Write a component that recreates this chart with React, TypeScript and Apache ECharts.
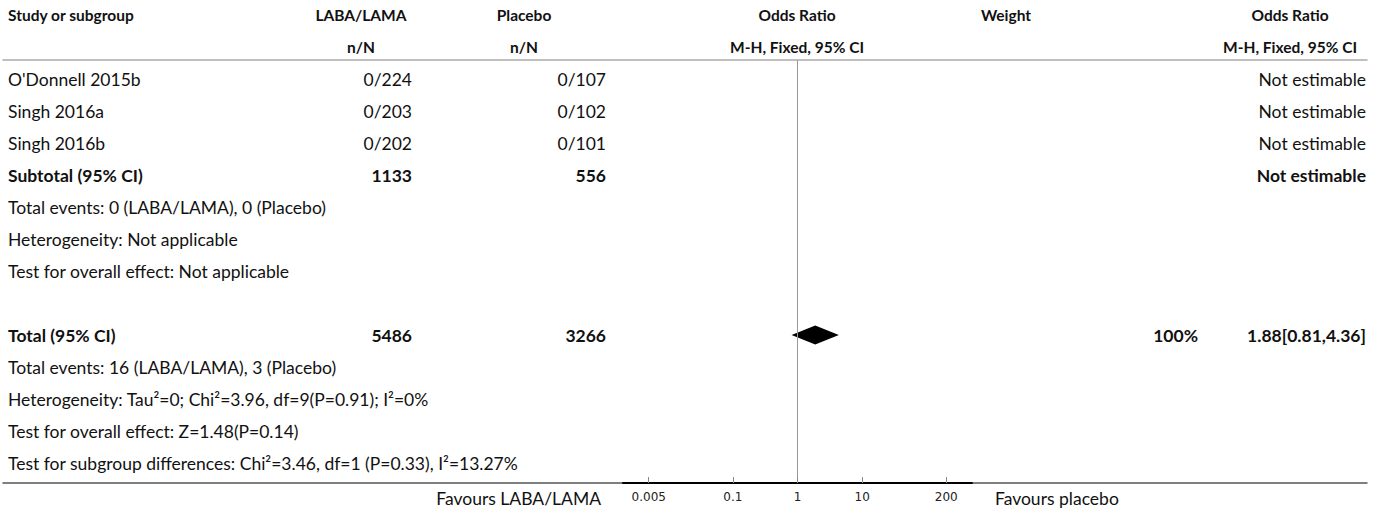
import React, { useEffect, useRef } from "react";
import * as echarts from "echarts";

// ---- data ----
const studyNames = ["O'Donnell 2015b", "Singh 2016a", "Singh 2016b"];
const labaCounts = ["0/224", "0/203", "0/202"];
const placeboCounts = ["0/107", "0/102", "0/101"];
const studyEstimates = ["Not estimable", "Not estimable", "Not estimable"];

const subtotalLabel = "Subtotal (95% CI)";
const subtotalLaba = "1133";
const subtotalPlacebo = "556";
const subtotalEstimate = "Not estimable";
const subgroupNotes = [
  "Total events: 0 (LABA/LAMA), 0 (Placebo)",
  "Heterogeneity: Not applicable",
  "Test for overall effect: Not applicable",
];

const totalLabel = "Total (95% CI)";
const totalLaba = "5486";
const totalPlacebo = "3266";
const totalWeight = "100%";
const totalEstimateText = "1.88[0.81,4.36]";
const totalOR = [1.88, 0.81, 4.36]; // OR, lower, upper
const totalNotes = [
  "Total events: 16 (LABA/LAMA), 3 (Placebo)",
  "Heterogeneity: Tau\u00b2=0; Chi\u00b2=3.96, df=9(P=0.91); I\u00b2=0%",
  "Test for overall effect: Z=1.48(P=0.14)",
  "Test for subgroup differences: Chi\u00b2=3.46, df=1 (P=0.33), I\u00b2=13.27%",
];

const headerRow1 = ["Study or subgroup", "LABA/LAMA", "Placebo", "Odds Ratio", "Weight", "Odds Ratio"];
const headerRow2 = ["", "n/N", "n/N", "M-H, Fixed, 95% CI", "", "M-H, Fixed, 95% CI"];

const axisTicks = [0.005, 0.1, 1, 10, 200];
const axisTickLabels = ["0.005", "0.1", "1", "10", "200"];
const axisRange = [0.002, 500];
const favoursLeft = "Favours LABA/LAMA";
const favoursRight = "Favours placebo";

// ---- layout ----
const FONT = "Lato";
const FS = 17.5;
const FS_ROW_BOLD = 17.5;
const FS_HEADER = 15.5;
const colHeaderX = [8, 361, 524, 797, 1006, 1290];
const colHeaderAlign = ["left", "center", "center", "center", "center", "center"];
const colValueX = [8, 412, 606, 797, 1198, 1366];

type Cell = { x: number; row: number; text: string; bold: boolean; align: string; size: number };

function buildCells(): Cell[] {
  const cells: Cell[] = [];
  headerRow1.forEach((t, i) => {
    if (t) cells.push({ x: colHeaderX[i], row: -2, text: t, bold: true, align: colHeaderAlign[i], size: FS_HEADER });
  });
  headerRow2.forEach((t, i) => {
    if (t) cells.push({ x: colHeaderX[i], row: -1, text: t, bold: true, align: colHeaderAlign[i], size: FS_HEADER });
  });
  const plain = (x: number, row: number, text: string, align: string) =>
    cells.push({ x, row, text, bold: false, align, size: FS });
  const bold = (x: number, row: number, text: string, align: string) =>
    cells.push({ x, row, text, bold: true, align, size: FS_ROW_BOLD });
  studyNames.forEach((name, r) => {
    plain(colValueX[0], r, name, "left");
    plain(colValueX[1], r, labaCounts[r], "right");
    plain(colValueX[2], r, placeboCounts[r], "right");
    plain(colValueX[5], r, studyEstimates[r], "right");
  });
  const sr = studyNames.length;
  bold(colValueX[0], sr, subtotalLabel, "left");
  bold(colValueX[1], sr, subtotalLaba, "right");
  bold(colValueX[2], sr, subtotalPlacebo, "right");
  bold(colValueX[5], sr, subtotalEstimate, "right");
  subgroupNotes.forEach((t, i) => plain(colValueX[0], sr + 1 + i, t, "left"));
  const tr = sr + subgroupNotes.length + 2;
  bold(colValueX[0], tr, totalLabel, "left");
  bold(colValueX[1], tr, totalLaba, "right");
  bold(colValueX[2], tr, totalPlacebo, "right");
  bold(colValueX[4], tr, totalWeight, "right");
  bold(colValueX[5], tr, totalEstimateText, "right");
  totalNotes.forEach((t, i) => plain(colValueX[0], tr + 1 + i, t, "left"));
  plain(601, 13.1, favoursLeft, "right");
  plain(995, 13.1, favoursRight, "left");
  return cells;
}

const TOTAL_ROW = studyNames.length + subgroupNotes.length + 2;

export default function App() {
  const ref = useRef<HTMLDivElement>(null);
  useEffect(() => {
    if (!ref.current) return;
    const chart = echarts.init(ref.current, undefined, { renderer: "svg" });
    const cells = buildCells();
    const log = (v: number) => Math.log10(v);
    const tickLogs = axisTicks.map(log);
    const gridTop = 60;
    const gridHeight = 423;
    const rowMin = -19 / 32;
    const rowMax = 12.625;

    chart.setOption({
      animation: false,
      grid: [
        { left: 3, top: gridTop, width: 1364, height: gridHeight },
        { left: 623, top: gridTop, width: 349, height: gridHeight },
      ],
      xAxis: [
        {
          gridIndex: 0, type: "value", min: 3, max: 1367, position: "bottom",
          axisLine: { show: true, onZero: false, lineStyle: { color: "#555", width: 1.5 } },
          axisTick: { show: false }, axisLabel: { show: false }, splitLine: { show: false },
        },
        {
          gridIndex: 0, type: "value", min: 3, max: 1367, position: "top",
          axisLine: { show: true, onZero: false, lineStyle: { color: "#aaa", width: 1.5 } },
          axisTick: { show: false }, axisLabel: { show: false }, splitLine: { show: false },
        },
        {
          gridIndex: 1, type: "value", min: log(axisRange[0]), max: log(axisRange[1]), z: 5,
          axisLine: { show: true, onZero: false, lineStyle: { color: "#000", width: 2 } },
          axisTick: { show: true, inside: true, length: 6, customValues: tickLogs, lineStyle: { color: "#888", width: 1 } },
          axisLabel: {
            show: true, customValues: tickLogs, margin: 8,
            fontFamily: "DejaVu Sans", fontSize: 12, color: "#222",
            formatter: (v: number) => {
              const i = tickLogs.findIndex((t) => Math.abs(t - v) < 1e-6);
              return i >= 0 ? axisTickLabels[i] : "";
            },
          },
          splitLine: { show: false },
        },
      ],
      yAxis: [
        { gridIndex: 0, type: "value", inverse: true, min: rowMin, max: rowMax, show: false },
        { gridIndex: 1, type: "value", inverse: true, min: rowMin, max: rowMax, show: false },
      ],
      series: [
        {
          type: "custom",
          xAxisIndex: 0,
          yAxisIndex: 0,
          silent: true,
          clip: false,
          data: cells.map((c, i) => [c.x, c.row, i]),
          renderItem: (params: any, api: any) => {
            const c = cells[api.value(2)];
            const p = api.coord([api.value(0), api.value(1)]);
            return {
              type: "text",
              x: p[0],
              y: p[1],
              style: {
                text: c.text,
                fill: "#111",
                fontFamily: FONT,
                fontSize: c.size,
                fontWeight: c.bold ? "bold" : "normal",
                align: c.align,
                verticalAlign: "middle",
              },
            };
          },
        },
        {
          type: "custom",
          xAxisIndex: 2,
          yAxisIndex: 1,
          silent: true,
          data: [[log(totalOR[0]), log(totalOR[1]), log(totalOR[2]), TOTAL_ROW]],
          renderItem: (params: any, api: any) => {
            const row = api.value(3);
            const c = api.coord([api.value(0), row]);
            const l = api.coord([api.value(1), row]);
            const r = api.coord([api.value(2), row]);
            const h = 9.5;
            return {
              type: "polygon",
              shape: { points: [[l[0], c[1]], [c[0], c[1] - h], [r[0], c[1]], [c[0], c[1] + h]] },
              style: { fill: "#000" },
            };
          },
          markLine: {
            silent: true,
            symbol: ["none", "none"],
            label: { show: false },
            lineStyle: { color: "#999", width: 1, type: "solid" },
            data: [{ xAxis: 0 }],
          },
        },
      ],
    });
    return () => chart.dispose();
  }, []);
  return <div ref={ref} style={{ position: "absolute", left: 0, top: 0, width: 1375, height: 513 }} />;
}
